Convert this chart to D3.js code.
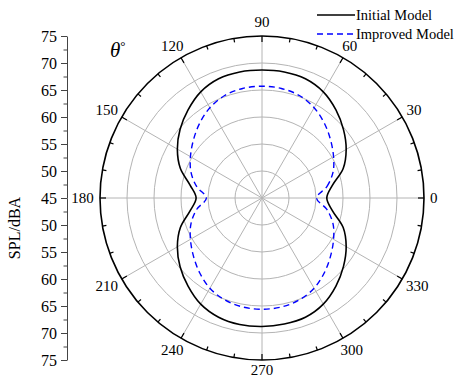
<!DOCTYPE html>
<html>
<head>
<meta charset="utf-8">
<script src="https://cdn.jsdelivr.net/npm/d3@7"></script>
<style>
  body { margin: 0; background: #fff; }
  svg { display: block; }
  text { font-family: "Liberation Serif", "Times New Roman", serif; fill: #000; }
</style>
</head>
<body>
<svg id="chart" width="459" height="380"></svg>
<script>
// angle (deg) of each measurement
const angles = [0, 10, 20, 30, 40, 50, 60, 70, 80, 90, 100, 110, 120, 130, 140, 150, 160, 170,
  180, 190, 200, 210, 220, 230, 240, 250, 260, 270, 280, 290, 300, 310, 320, 330, 340, 350];

// SPL (dBA)
const initialModel = [57.0, 58.2, 61.0, 63.0, 64.7, 66.3, 67.7, 68.5, 68.7, 68.7, 68.7, 68.5,
  67.7, 66.3, 64.8, 63.1, 61.1, 58.5, 57.2, 58.5, 61.1, 63.1, 64.8, 66.3, 67.7, 68.5, 68.8, 68.8,
  68.7, 68.5, 67.7, 66.3, 64.7, 63.0, 61.0, 58.2];
const improvedModel = [55.1, 57.2, 59.0, 60.3, 61.6, 63.0, 64.3, 65.2, 65.6, 65.7, 65.6, 65.2,
  64.3, 63.0, 61.6, 60.3, 59.0, 57.3, 55.3, 57.3, 59.0, 60.3, 61.6, 63.0, 64.3, 65.1, 65.5, 65.6,
  65.5, 65.1, 64.3, 63.0, 61.6, 60.3, 59.0, 57.2];

const angleTicks = [0, 30, 60, 90, 120, 150, 180, 210, 240, 270, 300, 330];
const gridLevels = [50, 55, 60, 65, 70];
const radialTicks = [45, 50, 55, 60, 65, 70, 75];
const radialMinor = [47.5, 52.5, 57.5, 62.5, 67.5, 72.5];
const seriesNames = ['Initial Model', 'Improved Model'];

const svg = d3.select('#chart');
const cx = 262, cy = 198, R = 162;

const r = d3.scaleLinear().domain([45, 75]).range([0, R]);
const toRad = d => d * Math.PI / 180;

const g = svg.append('g').attr('transform', `translate(${cx},${cy})`);

// grid circles
g.selectAll('.grid-circle')
  .data(gridLevels)
  .enter()
  .append('circle')
  .attr('r', d => r(d))
  .attr('fill', 'none')
  .attr('stroke', '#b4b4b4')
  .attr('stroke-width', 1);

// spokes
g.selectAll('.spoke')
  .data(angleTicks)
  .enter()
  .append('line')
  .attr('x1', 0).attr('y1', 0)
  .attr('x2', d => R * Math.cos(toRad(d)))
  .attr('y2', d => -R * Math.sin(toRad(d)))
  .attr('stroke', '#b4b4b4')
  .attr('stroke-width', 1);

// outer circle
g.append('circle')
  .attr('r', R)
  .attr('fill', 'none')
  .attr('stroke', '#000')
  .attr('stroke-width', 1.6);

// ticks on outer circle, every 10 deg, pointing inward
g.selectAll('.otick')
  .data(d3.range(0, 360, 10))
  .enter()
  .append('line')
  .attr('x1', d => R * Math.cos(toRad(d)))
  .attr('y1', d => -R * Math.sin(toRad(d)))
  .attr('x2', d => (R - (d % 30 === 0 ? 6 : 4)) * Math.cos(toRad(d)))
  .attr('y2', d => -(R - (d % 30 === 0 ? 6 : 4)) * Math.sin(toRad(d)))
  .attr('stroke', '#000')
  .attr('stroke-width', 1.2);

// angle labels
g.selectAll('.alabel')
  .data(angleTicks)
  .enter()
  .append('text')
  .attr('text-anchor', 'middle')
  .attr('dominant-baseline', 'central')
  .style('font-size', '15px')
  .attr('x', d => Math.cos(toRad(d)) * (168 + String(d).length * 3.8))
  .attr('y', d => d === 270 ? 172 : -Math.sin(toRad(d)) * 176)
  .text(d => d);

// curves
const line = d3.lineRadial()
  .angle(d => Math.PI / 2 - toRad(d.a))
  .radius(d => r(d.v))
  .curve(d3.curveCatmullRomClosed.alpha(0.5));

const initData = angles.map((a, i) => ({ a, v: initialModel[i] }));
const impData = angles.map((a, i) => ({ a, v: improvedModel[i] }));

g.append('path')
  .datum(initData)
  .attr('fill', 'none')
  .attr('stroke', '#000')
  .attr('stroke-width', 1.6)
  .attr('d', line);

g.append('path')
  .datum(impData)
  .attr('fill', 'none')
  .attr('stroke', '#0000ff')
  .attr('stroke-width', 1.4)
  .attr('stroke-dasharray', '6,4')
  .attr('d', line);

// radial axis on the left (75 -> 45 -> 75)
const axisX = 67;
const yTop = d3.scaleLinear().domain([45, 75]).range([cy, cy - R]);
const yBot = d3.scaleLinear().domain([45, 75]).range([cy, cy + R]);

const axTop = svg.append('g')
  .attr('transform', `translate(${axisX},0)`)
  .call(d3.axisLeft(yTop).tickValues(radialTicks).tickSize(6).tickSizeOuter(0).tickPadding(4));
const axBot = svg.append('g')
  .attr('transform', `translate(${axisX},0)`)
  .call(d3.axisLeft(yBot).tickValues(radialTicks.slice(1)).tickSize(6).tickSizeOuter(0).tickPadding(4));
[axTop, axBot].forEach(ax => {
  ax.selectAll('text').style('font-size', '16px').style('font-family', '"Liberation Serif", serif');
  ax.select('.domain').attr('stroke', '#444');
  ax.selectAll('.tick line').attr('stroke', '#444');
});
svg.append('g')
  .attr('transform', `translate(${axisX},0)`)
  .call(d3.axisLeft(yTop).tickValues(radialMinor).tickSize(3.5).tickSizeOuter(0).tickFormat(''))
  .call(a => a.select('.domain').remove())
  .selectAll('line').attr('stroke', '#444');
svg.append('g')
  .attr('transform', `translate(${axisX},0)`)
  .call(d3.axisLeft(yBot).tickValues(radialMinor).tickSize(3.5).tickSizeOuter(0).tickFormat(''))
  .call(a => a.select('.domain').remove())
  .selectAll('line').attr('stroke', '#444');

// axis title
svg.append('text')
  .attr('transform', 'translate(14,228) rotate(-90)')
  .attr('text-anchor', 'middle')
  .attr('dominant-baseline', 'central')
  .style('font-size', '16px')
  .text('SPL/dBA');

// theta label
svg.append('text')
  .attr('x', 110)
  .attr('y', 57)
  .style('font-size', '21px')
  .style('font-style', 'italic')
  .text('θ')
  .append('tspan')
  .style('font-style', 'normal')
  .style('font-size', '13px')
  .attr('dy', -7)
  .text('°');

// legend
const legend = svg.append('g').attr('transform', 'translate(317,15)');
legend.append('line')
  .attr('x1', 0).attr('y1', 0).attr('x2', 38).attr('y2', 0)
  .attr('stroke', '#000').attr('stroke-width', 1.6);
legend.append('text')
  .attr('x', 39).attr('y', 0).attr('dy', '0.35em')
  .style('font-size', '14.5px')
  .text(seriesNames[0]);
legend.append('line')
  .attr('x1', 0).attr('y1', 19).attr('x2', 38).attr('y2', 19)
  .attr('stroke', '#0000ff').attr('stroke-width', 1.4)
  .attr('stroke-dasharray', '6,4');
legend.append('text')
  .attr('x', 39).attr('y', 19).attr('dy', '0.35em')
  .style('font-size', '14.5px')
  .text(seriesNames[1]);
</script>
</body>
</html>
